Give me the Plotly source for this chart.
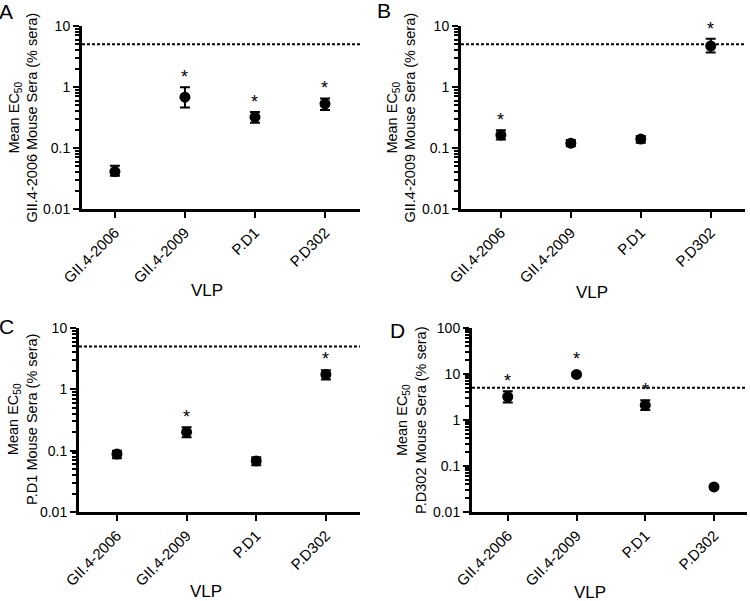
import math
import plotly.graph_objects as go

# VLP tested on the x axis
vlp = ["GII.4-2006", "GII.4-2009", "P.D1", "P.D302"]
cutoff = 5  # % sera, dashed line

y_tickvals = [0.01, 0.1, 1, 10, 100]
y_ticktext = ["0.01", "0.1", "1", "10", "100"]

# A: GII.4-2006 mouse sera
a_mean = [0.041, 0.68, 0.32, 0.53]
a_hi = [0.051, 0.99, 0.39, 0.65]
a_lo = [0.035, 0.46, 0.26, 0.42]
a_sig = [0, 1, 1, 1]

# B: GII.4-2009 mouse sera
b_mean = [0.163, 0.12, 0.14, 4.7]
b_hi = [0.196, 0.135, 0.158, 6.2]
b_lo = [0.138, 0.107, 0.122, 3.67]
b_sig = [1, 0, 0, 1]

# C: P.D1 mouse sera
c_mean = [0.088, 0.2, 0.068, 1.75]
c_hi = [0.1, 0.24, 0.078, 2.05]
c_lo = [0.075, 0.165, 0.058, 1.45]
c_sig = [0, 1, 0, 1]

# D: P.D302 mouse sera
d_mean = [3.2, 9.8, 2.1, 0.035]
d_hi = [4.2, 10.2, 2.7, 0.038]
d_lo = [2.4, 9.4, 1.65, 0.032]
d_sig = [1, 1, 1, 0]

W, H = 750, 601
FONT = "Liberation Sans, Arial, sans-serif"

# pixel boxes: (x_left, x_right, y_top, y_bottom)
panels = [
    dict(letter="A", sera="GII.4-2006", mean=a_mean, hi=a_hi, lo=a_lo, sig=a_sig,
         box=(82, 360, 26, 209), xr=[-0.47, 3.5], yr=[-2, 1],
         letter_xy=(6, 12), title_x=23, vlp_xy=(207, 290)),
    dict(letter="B", sera="GII.4-2009", mean=b_mean, hi=b_hi, lo=b_lo, sig=b_sig,
         box=(461, 745, 26, 209), xr=[-0.57, 3.49], yr=[-2, 1],
         letter_xy=(384, 11), title_x=401, vlp_xy=(592, 292)),
    dict(letter="C", sera="P.D1", mean=c_mean, hi=c_hi, lo=c_lo, sig=c_sig,
         box=(79, 360, 328, 512), xr=[-0.545, 3.49], yr=[-2, 1],
         letter_xy=(6, 326), title_x=22, vlp_xy=(206, 591)),
    dict(letter="D", sera="P.D302", mean=d_mean, hi=d_hi, lo=d_lo, sig=d_sig,
         box=(472, 747, 328, 512), xr=[-0.52, 3.48], yr=[-2, 2],
         letter_xy=(397, 330), title_x=411, vlp_xy=(590, 592)),
]

fig = go.Figure()
layout = {}
annotations = []

for i, p in enumerate(panels):
    n = "" if i == 0 else str(i + 1)
    xa, ya = "x" + n, "y" + n
    x0, x1, yt, yb = p["box"]
    xs = list(range(len(vlp)))

    fig.add_trace(go.Scatter(
        x=[p["xr"][0], p["xr"][1]], y=[cutoff, cutoff], mode="lines",
        line=dict(color="black", width=2, dash="3px,2px"),
        xaxis=xa, yaxis=ya, showlegend=False, hoverinfo="skip",
    ))
    fig.add_trace(go.Scatter(
        x=xs, y=p["mean"], mode="markers",
        marker=dict(color="black", size=11),
        error_y=dict(type="data", symmetric=False,
                     array=[h - m for h, m in zip(p["hi"], p["mean"])],
                     arrayminus=[m - l for m, l in zip(p["mean"], p["lo"])],
                     color="black", thickness=2, width=5),
        xaxis=xa, yaxis=ya, showlegend=False, cliponaxis=False,
    ))

    layout["xaxis" + n] = dict(
        domain=[x0 / W, x1 / W], anchor=ya, range=p["xr"],
        tickmode="array", tickvals=xs, ticktext=vlp, tickangle=-45,
        tickfont=dict(family=FONT, size=15, color="black"),
        showline=True, linecolor="black", linewidth=3,
        ticks="outside", ticklen=6, tickwidth=2, tickcolor="black",
        showgrid=False, zeroline=False, automargin=False,
    )
    tv = [v for v, t in zip(y_tickvals, y_ticktext) if p["yr"][0] <= math.log10(v) <= p["yr"][1]]
    tt = [t for v, t in zip(y_tickvals, y_ticktext) if p["yr"][0] <= math.log10(v) <= p["yr"][1]]
    layout["yaxis" + n] = dict(
        domain=[1 - yb / H, 1 - yt / H], anchor=xa, type="log", range=p["yr"],
        tickmode="array", tickvals=tv, ticktext=tt,
        tickfont=dict(family=FONT, size=14, color="black"),
        showline=True, linecolor="black", linewidth=3,
        ticks="outside", ticklen=6, tickwidth=2, tickcolor="black",
        minor=dict(ticks="outside", ticklen=4, tickwidth=1.5, tickcolor="black",
                   dtick="D1", showgrid=False),
        showgrid=False, zeroline=False, automargin=False,
    )

    # asterisks above significant points
    px_per_dec = (yb - yt) / (p["yr"][1] - p["yr"][0])
    for j, s in enumerate(p["sig"]):
        if not s:
            continue
        off = (math.log10(p["hi"][j]) - math.log10(p["mean"][j])) * px_per_dec
        annotations.append(dict(
            x=j, y=math.log10(p["mean"][j]), xref=xa, yref=ya, text="*",
            showarrow=False, yanchor="middle", yshift=max(off, 5.5) + 10,
            font=dict(family=FONT, size=18, color="black"),
        ))

    # panel letter, y title, x title
    lx, ly = p["letter_xy"]
    annotations.append(dict(
        x=lx / W, y=1 - ly / H, xref="paper", yref="paper", text=p["letter"],
        showarrow=False, xanchor="center", yanchor="middle",
        font=dict(family=FONT, size=21, color="black"),
    ))
    annotations.append(dict(
        x=p["title_x"] / W, y=1 - (yt + yb) / 2 / H, xref="paper", yref="paper",
        text="Mean EC<sub>50</sub><br>" + p["sera"] + " Mouse Sera (% sera)",
        textangle=-90, showarrow=False, xanchor="center", yanchor="middle",
        font=dict(family=FONT, size=14.5, color="black"),
    ))
    vx, vy = p["vlp_xy"]
    annotations.append(dict(
        x=vx / W, y=1 - vy / H, xref="paper", yref="paper", text="VLP",
        showarrow=False, xanchor="center", yanchor="middle",
        font=dict(family=FONT, size=17, color="black"),
    ))

fig.update_layout(
    width=W, height=H,
    margin=dict(l=0, r=0, t=0, b=0),
    paper_bgcolor="white", plot_bgcolor="white",
    annotations=annotations,
    **layout,
)

fig.write_html("out.html", config={"displayModeBar": False},
               post_script="document.body.style.margin='0';")
